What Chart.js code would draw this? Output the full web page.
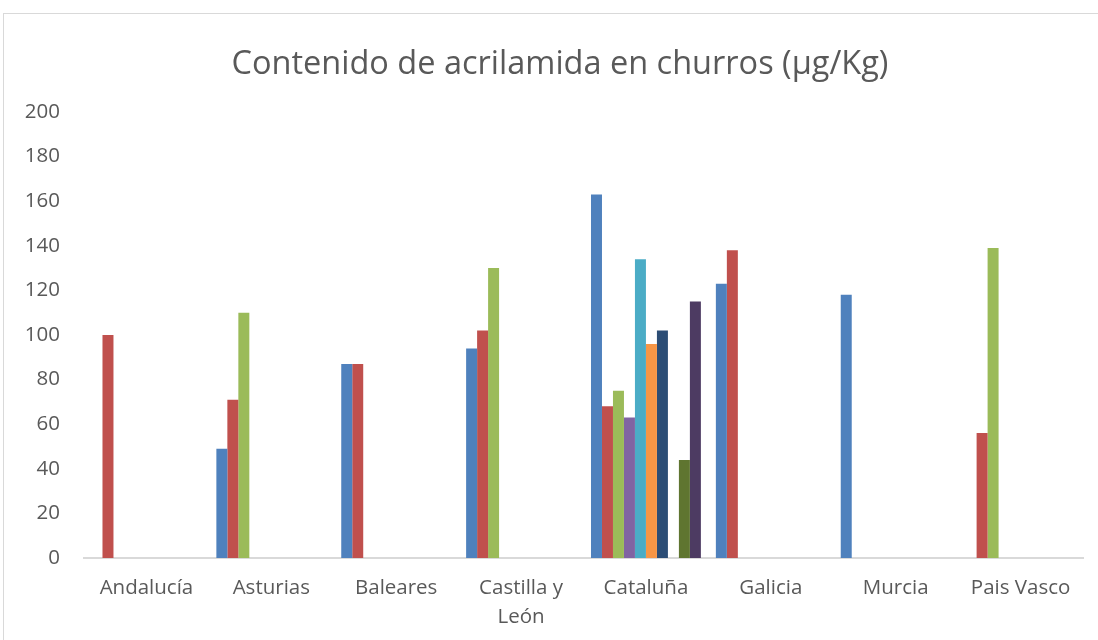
<!DOCTYPE html>
<html>
<head>
<meta charset="utf-8">
<script src="https://cdn.jsdelivr.net/npm/chart.js@4/dist/chart.umd.min.js"></script>
<style>
  html, body { margin: 0; background: #fff; overflow: hidden; }
  #frame { position: absolute; left: 3px; top: 13px; width: 1200px; height: 700px; border: 1px solid #d9d9d9; }
  #wrap { position: absolute; left: 0; top: 0; width: 1120px; height: 640px; }
</style>
</head>
<body>
<div id="frame"></div>
<!-- canvas runs a little past the window so the title centres where the original has it -->
<div id="wrap"><canvas id="churrosChart" width="1120" height="640"></canvas></div>
<script>
// Regions (categories)
const regiones = ['Andalucía', 'Asturias', 'Baleares', ['Castilla y', 'León'], 'Cataluña', 'Galicia', 'Murcia', 'Pais Vasco'];

// One series per sample; null = no sample for that region
const serie1 = [null, 49, 87, 94, 163, 123, 118, null];
const serie2 = [100, 71, 87, 102, 68, 138, null, 56];
const serie3 = [null, 110, null, 130, 75, null, null, 139];
const serie4 = [null, null, null, null, 63, null, null, null];
const serie5 = [null, null, null, null, 134, null, null, null];
const serie6 = [null, null, null, null, 96, null, null, null];
const serie7 = [null, null, null, null, 102, null, null, null];
const serie8 = [null, null, null, null, null, null, null, null];
const serie9 = [null, null, null, null, 44, null, null, null];
const serie10 = [null, null, null, null, 115, null, null, null];

const series = [serie1, serie2, serie3, serie4, serie5, serie6, serie7, serie8, serie9, serie10];
const colores = ['#4f81bd', '#c0504d', '#9bbb59', '#8064a2', '#4bacc6', '#f79646', '#2c4d75', '#772c2a', '#5f7530', '#4d3b62'];

const yTicks = { min: 0, max: 200, step: 20 };

const datasets = series.map((valores, i) => ({
    label: 'Serie ' + (i + 1),
    data: valores,
    backgroundColor: colores[i],
    borderWidth: 0
}));

const textColor = '#595959';

new Chart(document.getElementById('churrosChart').getContext('2d'), {
    type: 'bar',
    data: {
        labels: regiones,
        datasets: datasets
    },
    options: {
        responsive: false,
        animation: false,
        categoryPercentage: 0.88,
        barPercentage: 1.0,
        layout: {
            padding: { left: 0, right: 0, top: 0, bottom: 0 }
        },
        plugins: {
            legend: { display: false },
            tooltip: { enabled: false },
            title: {
                display: true,
                text: 'Contenido de acrilamida en churros (µg/Kg)',
                color: textColor,
                font: { family: 'Open Sans', size: 32.5, weight: 'normal' },
                padding: { top: 45, bottom: 28 }
            }
        },
        scales: {
            x: {
                grid: { display: false, drawTicks: false },
                border: { display: true, color: '#d9d9d9', width: 2 },
                ticks: {
                    color: textColor,
                    font: { family: 'Open Sans', size: 20.5, lineHeight: 1.4 },
                    padding: 16,
                    maxRotation: 0,
                    autoSkip: false
                },
                afterFit: scale => { scale.height = 82; }
            },
            y: {
                min: yTicks.min,
                max: yTicks.max,
                grid: { display: false, drawTicks: false },
                border: { display: false },
                ticks: {
                    stepSize: yTicks.step,
                    color: textColor,
                    font: { family: 'Open Sans', size: 20.5 },
                    padding: 24
                },
                afterFit: scale => { scale.width = 84; }
            },
            // empty spacer on the right, keeps the plot ending at the same place
            spacer: {
                position: 'right',
                grid: { display: false, drawTicks: false },
                border: { display: false },
                ticks: { display: false },
                afterFit: scale => { scale.width = 37; }
            }
        }
    }
});
</script>
</body>
</html>
